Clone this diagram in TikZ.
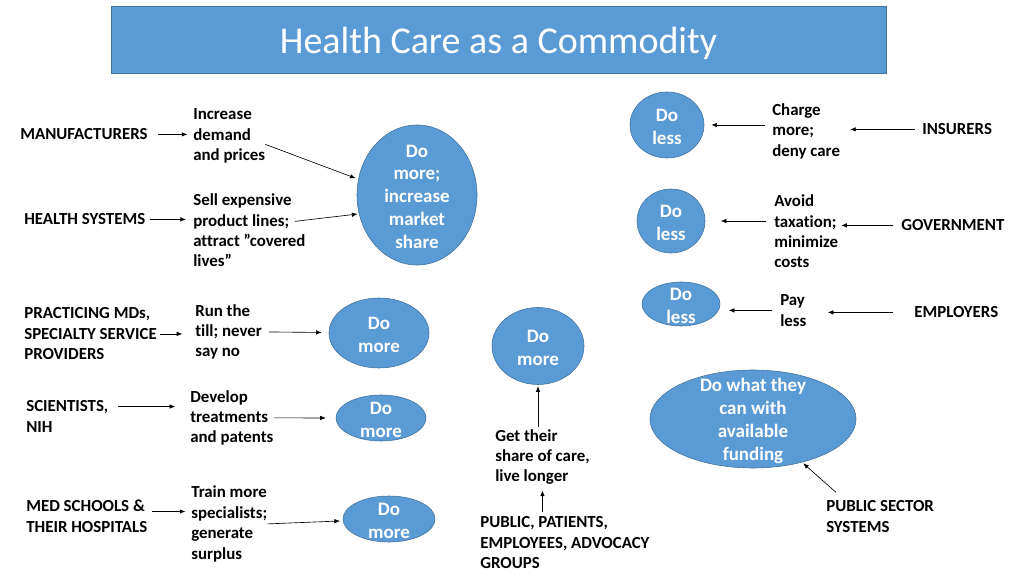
\documentclass[tikz,border=0pt]{standalone}
\usepackage{fontspec}
\setmainfont{Carlito}[Ligatures={TeX, NoCommon}]
\usepackage{tikz}
\usetikzlibrary{arrows.meta, shapes.geometric}
\definecolor{cellblue}{HTML}{5B9BD5}
\definecolor{cellline}{HTML}{41719C}

\begin{document}
\begin{tikzpicture}[x=0.025cm, y=-0.025cm,
        lbl/.style={anchor=west, align=left, inner sep=0pt, yshift=-1pt, font=\bfseries\fontsize{12}{14.5}\selectfont},
        bubble/.style={ellipse, draw=cellline, fill=cellblue, inner sep=0pt},
        btext/.style={text=white, align=center, inner sep=0pt, yshift=-1.3pt, font=\bfseries\fontsize{13.5}{16.3}\selectfont},
        arr/.style={-{Latex[length=4pt, width=3.2pt]}, line width=0.45pt}]
        \useasboundingbox (0, 0) rectangle (1024, 576);

        \node (title) at (498.5, 39.5)[draw=cellline, fill=cellblue, text=white, minimum width=19.375cm, minimum height=1.675cm, text height=25pt, text depth=5.5pt, font=\fontsize{27}{32}\selectfont] {Health Care as a Commodity};

        % left column
        \node (manuf) at (20, 133)[lbl] {MANUFACTURERS};
        \node (manufact) at (193, 134.5)[lbl] {Increase\\demand\\and prices};
        \node (hs) at (24, 218)[lbl] {HEALTH SYSTEMS};
        \node (hsact) at (193, 229)[lbl] {Sell expensive\\product lines;\\attract ”covered\\lives”};
        \node (big) at (417, 195)[bubble, minimum width=3cm, minimum height=3.5cm, label={[btext]center:{Do\\more;\\increase\\market\\share}}] {};

        \node (mds) at (24, 332.5)[lbl] {PRACTICING MDs,\\SPECIALTY SERVICE\\PROVIDERS};
        \node (mdsact) at (195, 330.5)[lbl] {Run the\\till; never\\say no};
        \node (moreA) at (379, 333)[bubble, minimum width=2.5cm, minimum height=1.75cm, label={[btext]center:{Do\\more}}] {};

        \node (sci) at (26, 415)[lbl] {SCIENTISTS,\\NIH};
        \node (sciact) at (190, 416.5)[lbl] {Develop\\treatments\\and patents};
        \node (moreB) at (381, 418)[bubble, minimum width=2.25cm, minimum height=1.15cm, label={[btext]center:{Do\\more}}] {};

        \node (med) at (26, 515)[lbl] {MED SCHOOLS \&\\THEIR HOSPITALS};
        \node (medact) at (191, 522.5)[lbl] {Train more\\specialists;\\generate\\surplus};
        \node (moreC) at (389, 519)[bubble, minimum width=2.3cm, minimum height=1.15cm, label={[btext]center:{Do\\more}}] {};

        % middle
        \node (moreM) at (538, 346)[bubble, minimum width=2.3cm, minimum height=1.925cm, label={[btext]center:{Do\\more}}] {};
        \node (publicact) at (495, 455.5)[lbl] {Get their\\share of care,\\live longer};
        \node (public) at (480, 541.5)[lbl] {PUBLIC, PATIENTS,\\EMPLOYEES, ADVOCACY\\GROUPS};

        % right column
        \node (lessA) at (667, 125)[bubble, minimum width=1.85cm, minimum height=1.65cm, label={[btext]center:{Do\\less}}] {};
        \node (insact) at (772, 130)[lbl] {Charge\\more;\\deny care};
        \node (insurers) at (922, 128)[lbl] {INSURERS};

        \node (lessB) at (671, 221)[bubble, minimum width=1.7cm, minimum height=1.6cm, label={[btext]center:{Do\\less}}] {};
        \node (govact) at (774, 230)[lbl] {Avoid\\taxation;\\minimize\\costs};
        \node (gov) at (901, 224)[lbl] {GOVERNMENT};

        \node (lessC) at (681, 304)[bubble, minimum width=1.95cm, minimum height=1.1cm, label={[btext]center:{Do\\less}}] {};
        \node (empact) at (780, 309)[lbl] {Pay\\less};
        \node (emp) at (914, 311)[lbl] {EMPLOYERS};

        \node (fund) at (753, 419)[bubble, minimum width=5.15cm, minimum height=2.45cm, label={[btext]center:{Do what they\\can with\\available\\funding}}] {};
        \node (pss) at (826, 515)[lbl] {PUBLIC SECTOR\\SYSTEMS};

        \draw[arr, shorten <=7pt, shorten >=4pt] (manuf.east) -- (manuf.east -| manufact.west);
        \draw[arr, shorten >=2pt] ([yshift=-6pt]manufact.east) -- (big.165);
        \draw[arr, shorten <=3.5pt, shorten >=5pt] (hs.east) -- (hs.east -| hsact.west);
        \draw[arr, shorten >=1pt] ([shift={(-11, -9)}]hsact.east) -- (big.198);

        \draw[arr, shorten <=2pt, shorten >=9pt] (mds.east) -- (mds.east -| mdsact.west);
        \draw[arr, shorten <=5pt, shorten >=5pt] (mdsact.east) -- (moreA);
        \draw[arr, shorten <=7pt, shorten >=10.5pt] ([yshift=7pt]sci.east) -- ([yshift=7pt]sci.east -| sciact.west);
        \draw[arr, shorten >=7pt] (sciact.east) -- (moreB);
        \draw[arr, shorten <=3.5pt, shorten >=4pt] ([yshift=3.5pt]med.east) -- ([yshift=3.5pt]med.east -| medact.west);
        \draw[arr, shorten >=2pt] (medact.east) -- (moreC);

        \draw[arr, shorten <=1.5pt, shorten >=1pt] (publicact.north -| moreM) -- (moreM);
        \draw[arr, shorten <=3pt, shorten >=4pt] (public.north -| publicact.south) -- (publicact.south);

        \draw[arr, shorten <=5pt, shorten >=5pt] (insact.west |- lessA) -- (lessA);
        \draw[arr, shorten <=5pt, shorten >=7pt] (insurers.west) -- (insurers.west -| insact.east);
        \draw[arr, shorten <=6pt, shorten >=11pt] (govact.west |- lessB) -- (lessB);
        \draw[arr, shorten <=5.5pt, shorten >=2pt] (gov.west) -- (gov.west -| govact.east);
        \draw[arr, shorten <=6pt, shorten >=6pt] (empact.west) -- (empact.west -| lessC.east);
        \draw[arr, shorten <=15pt, shorten >=15pt] (emp.west) -- (emp.west -| empact.east);
        \draw[arr, shorten >=1pt] ([shift={(10, -8)}]pss.north west) -- (fund);
    \end{tikzpicture}
\end{document}
